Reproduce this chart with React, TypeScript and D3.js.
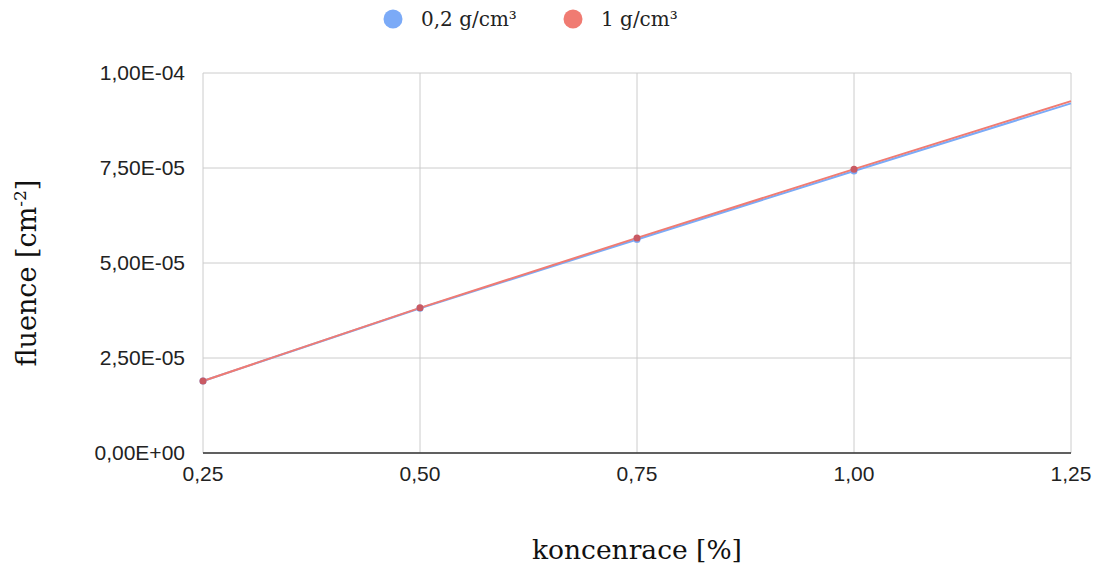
import React from 'react';
import * as d3 from 'd3';

// koncentrace [%]
const concentrations = [0.25, 0.5, 0.75, 1.0, 1.25];
// fluence for each density
const fluenceLow = [1.895e-5, 3.81e-5, 5.62e-5, 7.42e-5, 9.2e-5];
const fluenceHigh = [1.895e-5, 3.82e-5, 5.66e-5, 7.47e-5, 9.26e-5];
const seriesNames = ['0,2 g/cm³', '1 g/cm³'];
const seriesColors = ['#7baaf7', '#f07b72'];
const yTicks = [0, 2.5e-5, 5e-5, 7.5e-5, 1e-4];
const xTicks = [0.25, 0.5, 0.75, 1.0, 1.25];

const width = 1094;
const height = 569;
const margin = { top: 73, right: 23, bottom: 116, left: 203 };

const fmtX = (v: number) => v.toFixed(2).replace('.', ',');
const fmtY = (v: number) => {
  const [m, e] = v.toExponential(2).split('e');
  const exp = parseInt(e, 10);
  const sign = exp < 0 ? '-' : '+';
  return `${m.replace('.', ',')}E${sign}${String(Math.abs(exp)).padStart(2, '0')}`;
};

const App: React.FC = () => {
  const x = d3.scaleLinear().domain([0.25, 1.25]).range([margin.left, width - margin.right]);
  const y = d3.scaleLinear().domain([0, 1e-4]).range([height - margin.bottom, margin.top]);

  const line = d3.line<number>()
    .x((_, i) => x(concentrations[i]))
    .y(d => y(d));

  const series = [fluenceLow, fluenceHigh];
  const tickFont = '"Liberation Sans", Arial, sans-serif';
  const serif = '"DejaVu Serif", "Liberation Serif", serif';

  return (
    <svg width={width} height={height} style={{ position: 'absolute', left: 0, top: 0 }}>
      <rect width={width} height={height} fill="#fff" />

      {/* grid */}
      {yTicks.map(t => (
        <g key={'y' + t}>
          <line x1={x(0.25)} x2={x(1.25)} y1={y(t)} y2={y(t)} stroke="#cccccc" strokeWidth={1} />
          <text x={x(0.25) - 18} y={y(t)} dy="0.35em" textAnchor="end" fontFamily={tickFont}
            fontSize={21} fill="#222">{fmtY(t)}</text>
        </g>
      ))}
      {xTicks.map(t => (
        <g key={'x' + t}>
          <line x1={x(t)} x2={x(t)} y1={y(1e-4)} y2={y(0)} stroke="#cccccc" strokeWidth={1} />
          <text x={x(t)} y={y(0) + 28} textAnchor="middle" fontFamily={tickFont}
            fontSize={21} fill="#222">{fmtX(t)}</text>
        </g>
      ))}
      <line x1={x(0.25)} x2={x(1.25)} y1={y(0)} y2={y(0)} stroke="#333" strokeWidth={1.5} />

      {/* lines */}
      {series.map((s, i) => (
        <path key={'l' + i} d={line(s) || ''} fill="none" stroke={seriesColors[i]} strokeWidth={2} />
      ))}
      {series.map((s, i) => (
        <g key={'m' + i}>
          {s.slice(0, 4).map((v, j) => (
            <circle key={j} cx={x(concentrations[j])} cy={y(v)} r={3.5}
              fill={i === 0 ? seriesColors[0] : '#c95a63'} />
          ))}
        </g>
      ))}

      {/* legend */}
      {seriesNames.map((n, i) => {
        const lx = 393 + i * 180;
        return (
          <g key={'lg' + i}>
            <circle cx={lx} cy={19} r={9.5} fill={seriesColors[i]} />
            <text x={lx + 28} y={26} fontFamily={serif} fontSize={20} fill="#222">{n}</text>
          </g>
        );
      })}

      {/* axis titles */}
      <text x={(x(0.25) + x(1.25)) / 2} y={559} textAnchor="middle" fontFamily={serif}
        fontSize={26.5} fill="#111">koncenrace [%]</text>
      <text transform={`translate(36, ${(y(0) + y(1e-4)) / 2 + 10}) rotate(-90)`} textAnchor="middle"
        fontFamily={serif} fontSize={27} fill="#111">fluence [cm<tspan dy={-10} fontSize={17}>-2</tspan><tspan dy={10}>]</tspan></text>
    </svg>
  );
};

export default App;
